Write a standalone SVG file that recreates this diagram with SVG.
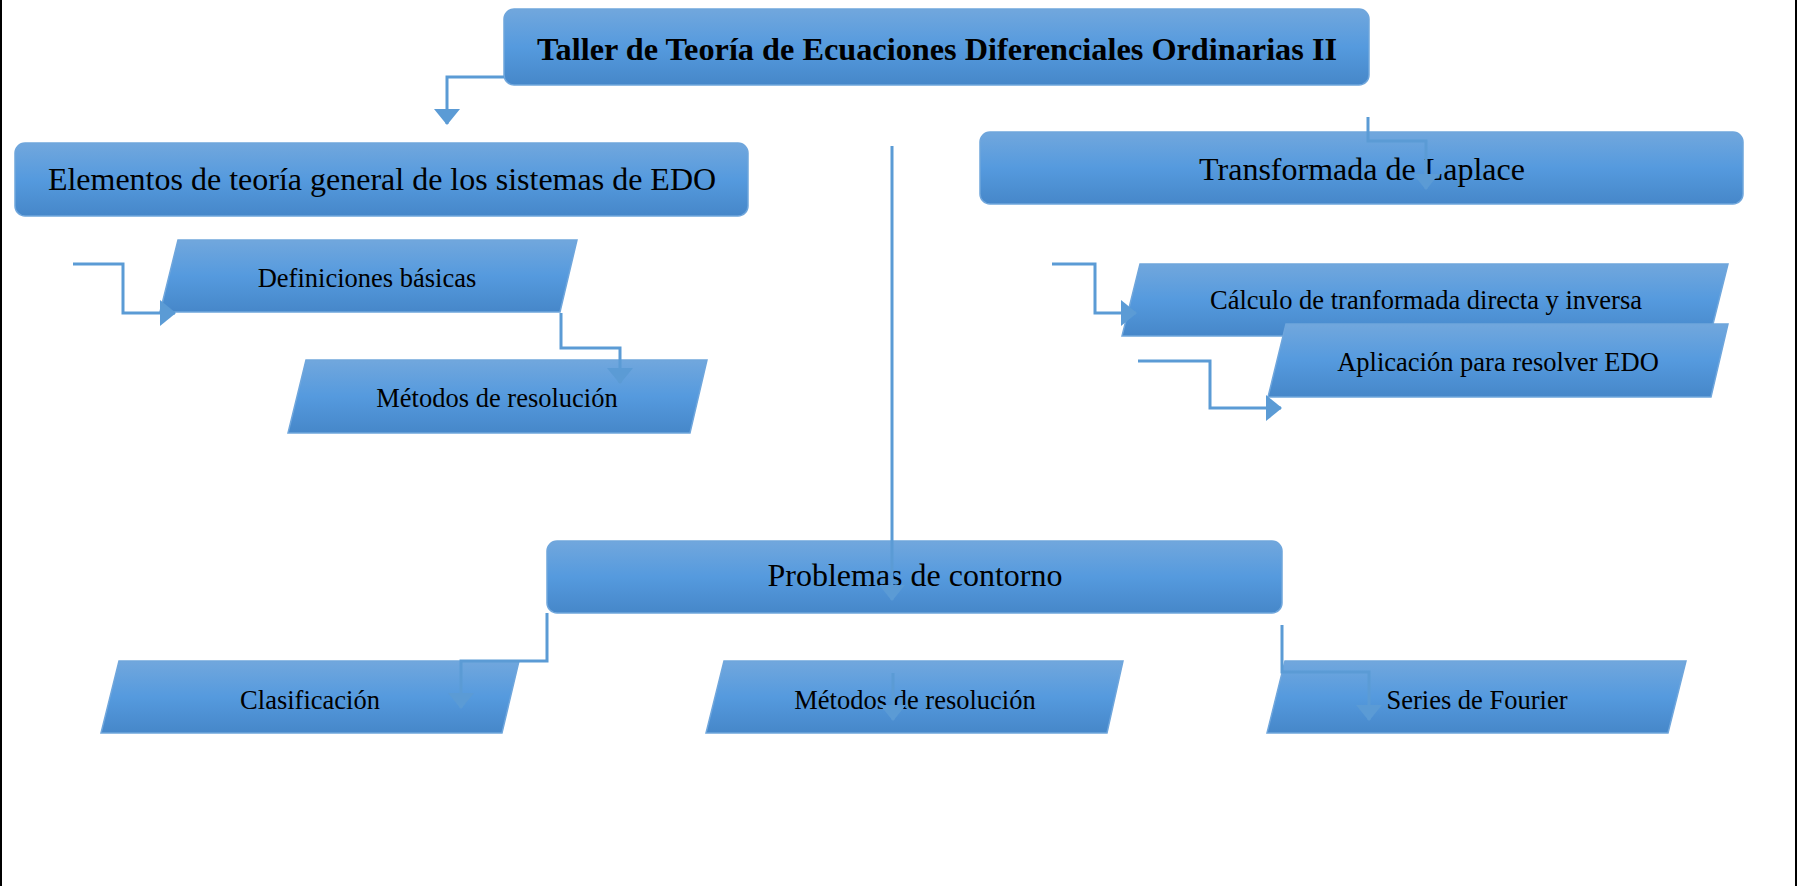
<svg xmlns="http://www.w3.org/2000/svg" width="1797" height="886" viewBox="0 0 1797 886">
<defs>
<linearGradient id="g" x1="0" y1="0" x2="0" y2="1">
<stop offset="0" stop-color="#71a7dd"/>
<stop offset="0.5" stop-color="#559ade"/>
<stop offset="1" stop-color="#4687c9"/>
</linearGradient>
<marker id="ah" viewBox="0 0 16 26" markerWidth="16" markerHeight="26" refX="15" refY="13" orient="auto" markerUnits="userSpaceOnUse">
<path d="M0,0 L16,13 L0,26 z" fill="#5b9bd5"/>
</marker>
<style>
.box{fill:url(#g);stroke:#6fa6dc;stroke-width:1.5}
.t{font-family:"Liberation Serif","Times New Roman",serif;fill:#000;text-anchor:middle}
.big{font-size:32px}
.sm{font-size:26.5px}
.c{fill:none;stroke:#5b9bd5;stroke-width:3;marker-end:url(#ah)}
.frame{stroke:#000;stroke-width:2}
</style>
</defs>
<rect width="1797" height="886" fill="#fff"/>
<line class="frame" x1="1" y1="0" x2="1" y2="886"/>
<line class="frame" x1="1796" y1="0" x2="1796" y2="886"/>

<g id="title">
<rect class="box" x="504" y="9" width="865" height="76" rx="10"/>
<text class="t big" x="937" y="60" font-weight="bold" textLength="800" lengthAdjust="spacingAndGlyphs">Taller de Teoría de Ecuaciones Diferenciales Ordinarias II</text>
</g>
<g id="elementos">
<rect class="box" x="15" y="143" width="733" height="73" rx="10"/>
<text class="t big" x="382" y="190">Elementos de teoría general de los sistemas de EDO</text>
</g>
<g id="laplace">
<rect class="box" x="980" y="132" width="763" height="72" rx="10"/>
<text class="t big" x="1362" y="180">Transformada de Laplace</text>
</g>
<g id="definiciones">
<polygon class="box" points="178,240 577,240 560,312 160,312"/>
<text class="t sm" x="367" y="287">Definiciones básicas</text>
</g>
<g id="metodos1">
<polygon class="box" points="306,360 707,360 690,433 288,433"/>
<text class="t sm" x="497" y="407">Métodos de resolución</text>
</g>
<g id="calculo">
<polygon class="box" points="1140,264 1728,264 1710,336 1122,336"/>
<text class="t sm" x="1426" y="309">Cálculo de tranformada directa y inversa</text>
</g>
<g id="aplicacion">
<polygon class="box" points="1286,324 1728,324 1711,397 1268,397"/>
<text class="t sm" x="1498" y="371">Aplicación para resolver EDO</text>
</g>
<g id="problemas">
<rect class="box" x="547" y="541" width="735" height="72" rx="10"/>
<text class="t big" x="915" y="586">Problemas de contorno</text>
</g>
<g id="clasificacion">
<polygon class="box" points="119,661 519,661 502,733 101,733"/>
<text class="t sm" x="310" y="709">Clasificación</text>
</g>
<g id="metodos2">
<polygon class="box" points="724,661 1123,661 1107,733 706,733"/>
<text class="t sm" x="915" y="709">Métodos de resolución</text>
</g>
<g id="series">
<polygon class="box" points="1285,661 1686,661 1668,733 1267,733"/>
<text class="t sm" x="1477" y="709">Series de Fourier</text>
</g>

<g id="connectors">
<path class="c" d="M504,77 H447 V124"/>
<path class="c" d="M1368,117 V141 H1426 V189"/>
<path class="c" d="M73,264 H123 V313 H175"/>
<path class="c" d="M561,313 V348 H620 V383"/>
<path class="c" d="M1052,264 H1095 V313 H1136"/>
<path class="c" d="M1138,361 H1210 V408 H1281"/>
<path class="c" d="M892,146 V600"/>
<path class="c" d="M547,613 V661 H461 V708"/>
<path class="c" d="M893,673 V720"/>
<path class="c" d="M1282,625 V672 H1369 V720"/>
</g>
</svg>
